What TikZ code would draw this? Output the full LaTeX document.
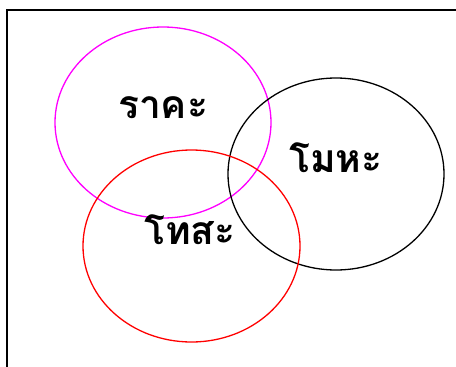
\documentclass[tikz,border=0pt]{standalone}
\usepackage{fontspec}
\newfontfamily\thaifont[Script=Thai]{Loma}
\usepackage{tikz}
\definecolor{ringmagenta}{RGB}{255,0,255}
\definecolor{ringred}{RGB}{255,0,0}

\begin{document}
\begin{tikzpicture}[x=1pt,y=-1pt]
		\useasboundingbox (0,0) rectangle (456,367);
		\tikzset{word/.style={font=\thaifont\bfseries\fontsize{39}{46}\selectfont}}
		% frame
		\draw[line width=1.6pt] (7,367) -- (7,10) -- (456,10);
		% the three rings
		\draw[ringmagenta, line width=1.3pt] (163,122.5) ellipse[x radius=108, y radius=95.5];
		\draw[black, line width=1.3pt] (336,174) ellipse[x radius=108, y radius=96];
		\draw[ringred, line width=1.3pt] (191.5,246) ellipse[x radius=108.5, y radius=96];
		\node[word] (raga) at (163,108) {ราคะ};
		\node[word] (moha) at (336,158) {โมหะ};
		\node[word] (dosa) at (190,230) {โทสะ};
	\end{tikzpicture}
\end{document}
